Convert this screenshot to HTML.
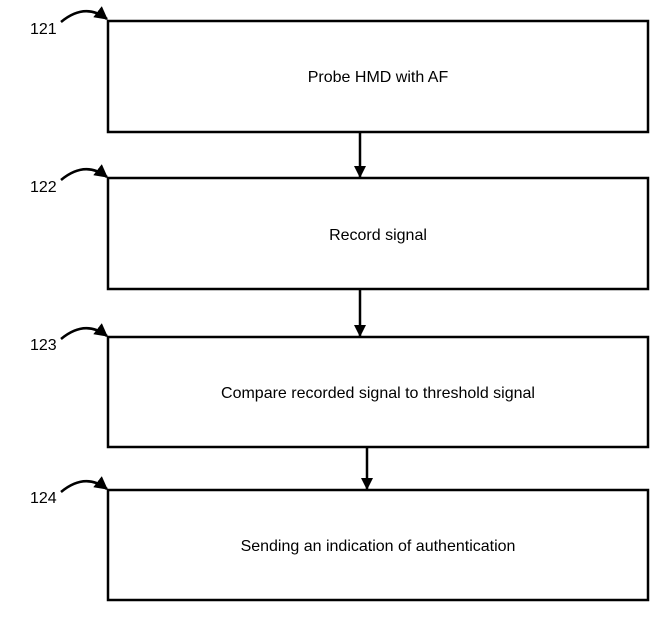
<!DOCTYPE html>
<html><head><style>
body{margin:0;background:#fff;}
svg{display:block;}
text{font-family:"Liberation Sans",Arial,sans-serif;font-size:16px;fill:#000;}
</style></head><body>
<svg width="655" height="621" viewBox="0 0 655 621" xmlns="http://www.w3.org/2000/svg">
<defs>
<marker id="a" markerWidth="12" markerHeight="12" refX="11" refY="6" orient="auto" markerUnits="userSpaceOnUse"><path d="M0,0 L12,6 L0,12 z" fill="#000"/></marker>
<marker id="c" markerWidth="14" markerHeight="14" refX="12" refY="7" orient="auto" markerUnits="userSpaceOnUse"><path d="M0,0 L13,7 L0,14 z" fill="#000"/></marker>
</defs>
<g fill="none" stroke="#000" stroke-width="2.5">
<rect x="108" y="21" width="540" height="111"/>
<rect x="108" y="178" width="540" height="111"/>
<rect x="108" y="337" width="540" height="110"/>
<rect x="108" y="490" width="540" height="110"/>
<line x1="360" y1="132" x2="360" y2="177" marker-end="url(#a)"/>
<line x1="360" y1="289" x2="360" y2="336" marker-end="url(#a)"/>
<line x1="367" y1="447" x2="367" y2="489" marker-end="url(#a)"/>
<path d="M61,22 Q85,2 107,19" marker-end="url(#c)"/>
<path d="M61,180 Q85,160 107,177" marker-end="url(#c)"/>
<path d="M61,339 Q85,319 107,336" marker-end="url(#c)"/>
<path d="M61,492 Q85,472 107,489" marker-end="url(#c)"/>
</g>
<text x="30" y="34">121</text>
<text x="30" y="192">122</text>
<text x="30" y="350">123</text>
<text x="30" y="503">124</text>
<text x="378" y="82" text-anchor="middle">Probe HMD with AF</text>
<text x="378" y="240" text-anchor="middle">Record signal</text>
<text x="378" y="398" text-anchor="middle">Compare recorded signal to threshold signal</text>
<text x="378" y="551" text-anchor="middle">Sending an indication of authentication</text>
</svg>
</body></html>
